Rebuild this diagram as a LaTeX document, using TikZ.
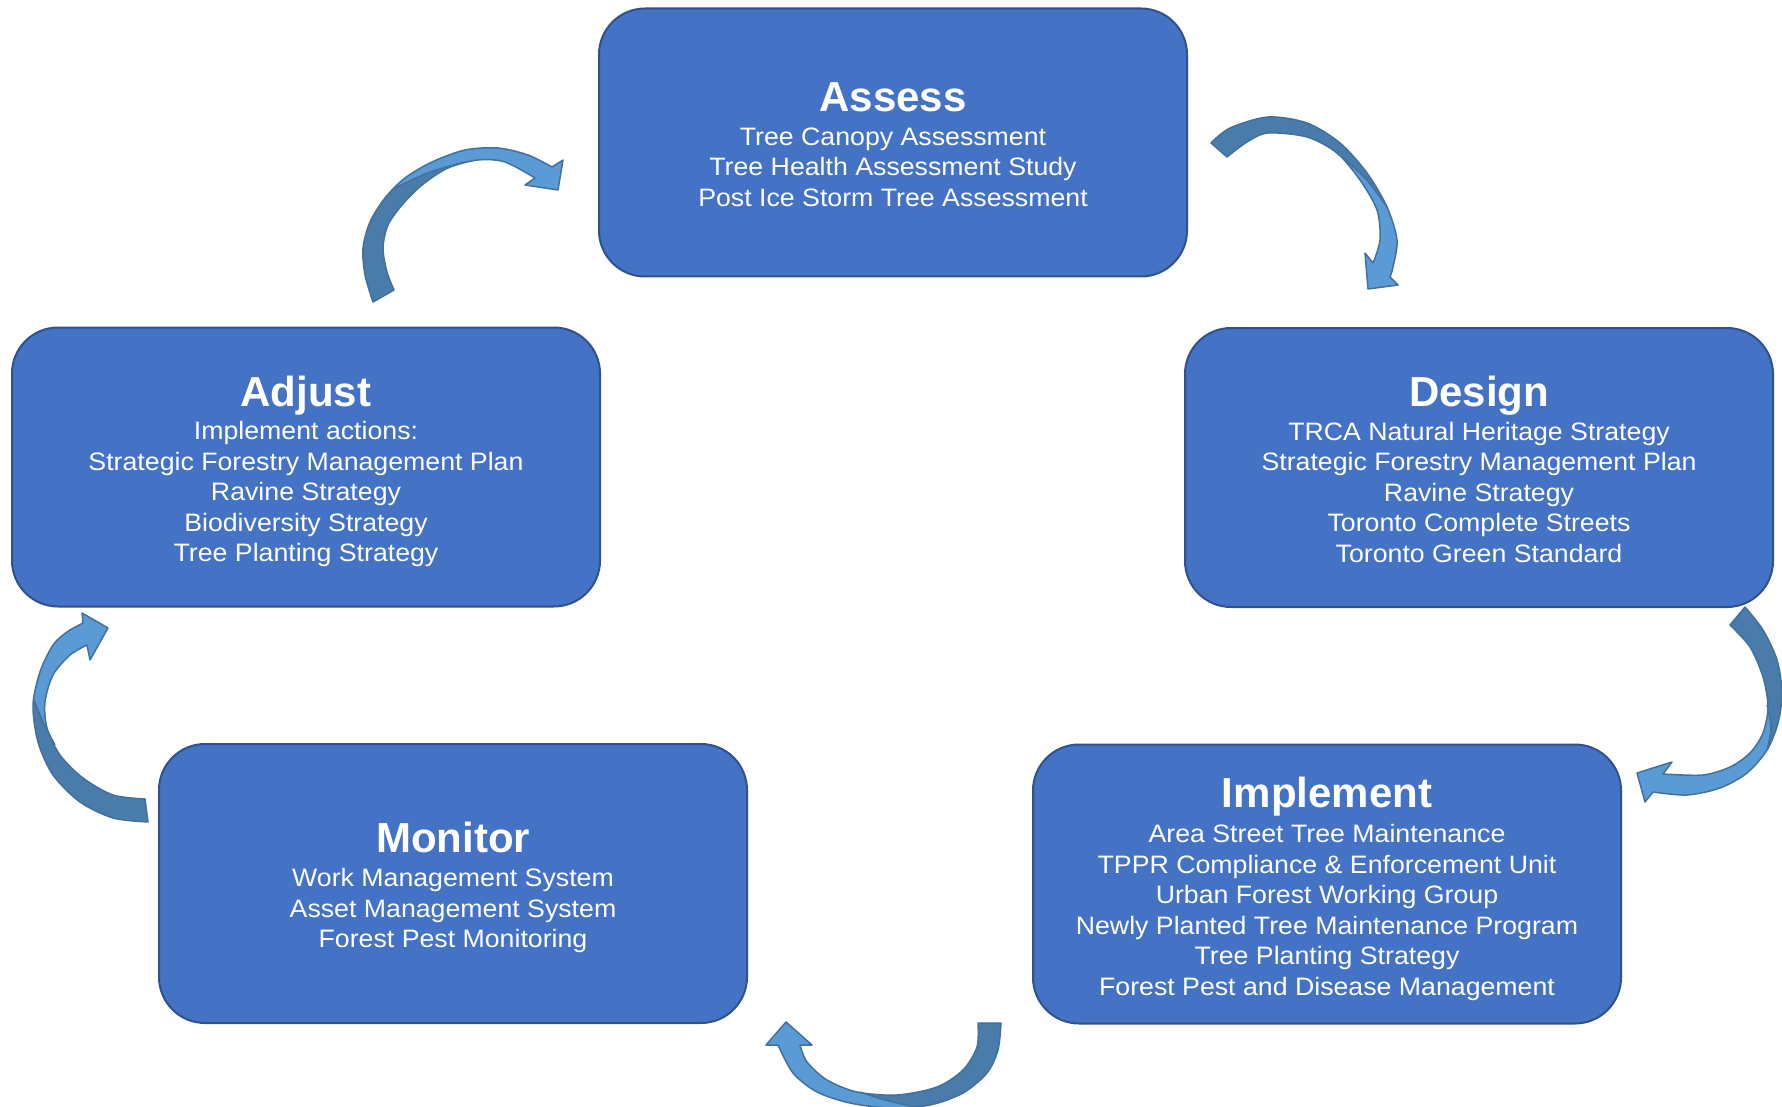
\documentclass[tikz,border=0pt]{standalone}
\usepackage{fontspec}
\setmainfont{Liberation Sans}
\newfontfamily\bodyfont[FakeStretch=1.06]{Liberation Sans}
\definecolor{boxfill}{HTML}{4472C4}
\definecolor{boxline}{HTML}{2F528F}
\definecolor{arlight}{HTML}{5B9BD5}
\definecolor{ardark}{HTML}{497CAA}
\definecolor{arline}{HTML}{41719C}
\tikzset{
 stagebox/.style={draw=boxline, line width=1pt, fill=boxfill, rounded corners=23pt, minimum width=294pt, minimum height=139.5pt, inner sep=0pt},
 stagetitle/.style={text=white, font=\bfseries\fontsize{21}{25}\selectfont, anchor=base, inner sep=0pt},
 stagebody/.style={text=white, font=\bodyfont\fontsize{12.6}{15.25}\selectfont, align=center, anchor=base, inner sep=0pt},
 arrowedge/.style={draw=arline, line width=0.75pt, line join=round},
}
\def\ArrOne{plot[smooth] coordinates {(1211,143) (1230,128) (1268,117) (1307,123) (1340,143) (1367,173) (1387,207) (1397,240) (1393,267) (1390,277)} -- (1398,285) -- (1368,289) -- (1365,253) -- plot[smooth] coordinates {(1373,263) (1380,240) (1377,210) (1360,180) (1337,153) (1307,137) (1268,133) (1247,142) (1227,157)} -- cycle}
\def\ArrTwo{plot[smooth] coordinates {(373,302) (365,275) (363,248) (370,222) (385,198) (405,178) (432,162) (465,150) (498,148) (528,155) (552,167)} -- (563,160) -- (558,190) -- (525,185) -- plot[smooth] coordinates {(535,178) (505,162) (478,160) (448,168) (422,185) (402,205) (388,225) (383,248) (387,272) (394,290)} -- cycle}
\def\ArrThree{plot[smooth] coordinates {(1745,607) (1763,630) (1777,660) (1782,693) (1778,723) (1767,750) (1747,773) (1720,788) (1687,795) (1653,792)} -- (1645,802) -- (1637,773) -- (1672,762) -- plot[smooth] coordinates {(1663,774) (1703,775) (1730,767) (1750,753) (1763,733) (1768,707) (1763,677) (1750,647) (1730,625)} -- cycle}
\def\ArrFour{plot[smooth] coordinates {(1001,1023) (998,1050) (987,1073) (963,1093) (930,1105) (890,1108) (850,1103) (817,1092) (793,1073) (778,1045)} -- (766,1045) -- (786,1022) -- (812,1045) -- plot[smooth] coordinates {(800,1045) (807,1062) (827,1080) (857,1092) (897,1095) (937,1087) (963,1070) (977,1047) (978,1023)} -- cycle}
\def\ArrFive{plot[smooth] coordinates {(148,822) (113,818) (80,802) (53,775) (38,742) (33,705) (40,672) (53,645) (67,632) (83,623)} -- (82,613) -- (108,628) -- (90,660) -- plot[smooth] coordinates {(87,645) (70,655) (53,675) (45,702) (47,728) (60,755) (83,778) (113,795) (145,799)} -- cycle}
\begin{document}
\begin{tikzpicture}[x=0.5pt,y=-0.5pt]
\useasboundingbox (0,0) rectangle (1782,1107);
% cycle arrows
\fill[arlight] \ArrOne;
\begin{scope}\clip \ArrOne;
\fill[ardark] (1330,175) -- (1250,260) -- (1150,260) -- (1150,60) -- (1420,60) -- (1420,200) -- (1400,205) -- plot[smooth] coordinates {(1387,207) (1365,178) (1337,153)} -- cycle;
\end{scope}
\draw[arrowedge] \ArrOne;
\draw[arrowedge] plot[smooth] coordinates {(1387,207) (1365,178) (1337,153)};
\fill[arlight] \ArrTwo;
\begin{scope}\clip \ArrTwo;
\fill[ardark] (465,185) -- (440,320) -- (330,320) -- (330,200) -- (385,178) -- plot[smooth] coordinates {(395,188) (430,172) (465,162)} -- cycle;
\end{scope}
\draw[arrowedge] \ArrTwo;
\draw[arrowedge] plot[smooth] coordinates {(395,188) (430,172) (465,162)};
\fill[arlight] \ArrThree;
\begin{scope}\clip \ArrThree;
\fill[ardark] (1745,705) -- (1700,640) -- (1700,580) -- (1800,580) -- (1800,760) -- (1790,752) -- plot[smooth] coordinates {(1767,750) (1771,728) (1767,705)} -- cycle;
\end{scope}
\draw[arrowedge] \ArrThree;
\draw[arrowedge] plot[smooth] coordinates {(1767,750) (1771,728) (1767,705)};
\fill[arlight] \ArrFour;
\begin{scope}\clip \ArrFour;
\fill[ardark] (860,1070) -- (940,1000) -- (1040,1000) -- (1040,1130) -- (910,1130) -- plot[smooth] coordinates {(910,1106) (885,1100) (860,1092)} -- cycle;
\end{scope}
\draw[arrowedge] \ArrFour;
\draw[arrowedge] plot[smooth] coordinates {(910,1106) (885,1100) (860,1092)};
\fill[arlight] \ArrFive;
\begin{scope}\clip \ArrFive;
\fill[ardark] (75,740) -- (130,770) -- (170,770) -- (170,850) -- (0,850) -- (0,700) -- (20,700) -- plot[smooth] coordinates {(34,700) (43,722) (55,745)} -- cycle;
\end{scope}
\draw[arrowedge] \ArrFive;
\draw[arrowedge] plot[smooth] coordinates {(34,700) (43,722) (55,745)};
% stage boxes
\node[stagebox, minimum height=134pt] (assess) at (893,142.5) {};
\node[stagebox] (design) at (1479,467.5) {};
\node[stagebox] (adjust) at (306,467) {};
\node[stagebox] (monitor) at (453,883.5) {};
\node[stagebox] (implement) at (1327,884) {};
% texts (base anchor = baseline of the last line)
\node[stagetitle] (assessT) at (893,112) {Assess};
\node[stagebody] (assessB) at (893,206.5) {Tree Canopy Assessment\\Tree Health Assessment Study\\Post Ice Storm Tree Assessment};
\node[stagetitle] (designT) at (1479,406) {Design};
\node[stagebody] (designB) at (1479,562) {TRCA Natural Heritage Strategy\\Strategic Forestry Management Plan\\Ravine Strategy\\Toronto Complete Streets\\Toronto Green Standard};
\node[stagetitle] (adjustT) at (306,406) {Adjust};
\node[stagebody] (adjustB) at (306,561.5) {Implement actions:\\Strategic Forestry Management Plan\\Ravine Strategy\\Biodiversity Strategy\\Tree Planting Strategy};
\node[stagetitle] (monitorT) at (453,852) {Monitor};
\node[stagebody] (monitorB) at (453,947.5) {Work Management System\\Asset Management System\\Forest Pest Monitoring};
\node[stagetitle] (implementT) at (1327,807) {Implement};
\node[stagebody] (implementB) at (1327,995.2) {Area Street Tree Maintenance\\TPPR Compliance \& Enforcement Unit\\Urban Forest Working Group\\Newly Planted Tree Maintenance Program\\Tree Planting Strategy\\Forest Pest and Disease Management};
\end{tikzpicture}
\end{document}
